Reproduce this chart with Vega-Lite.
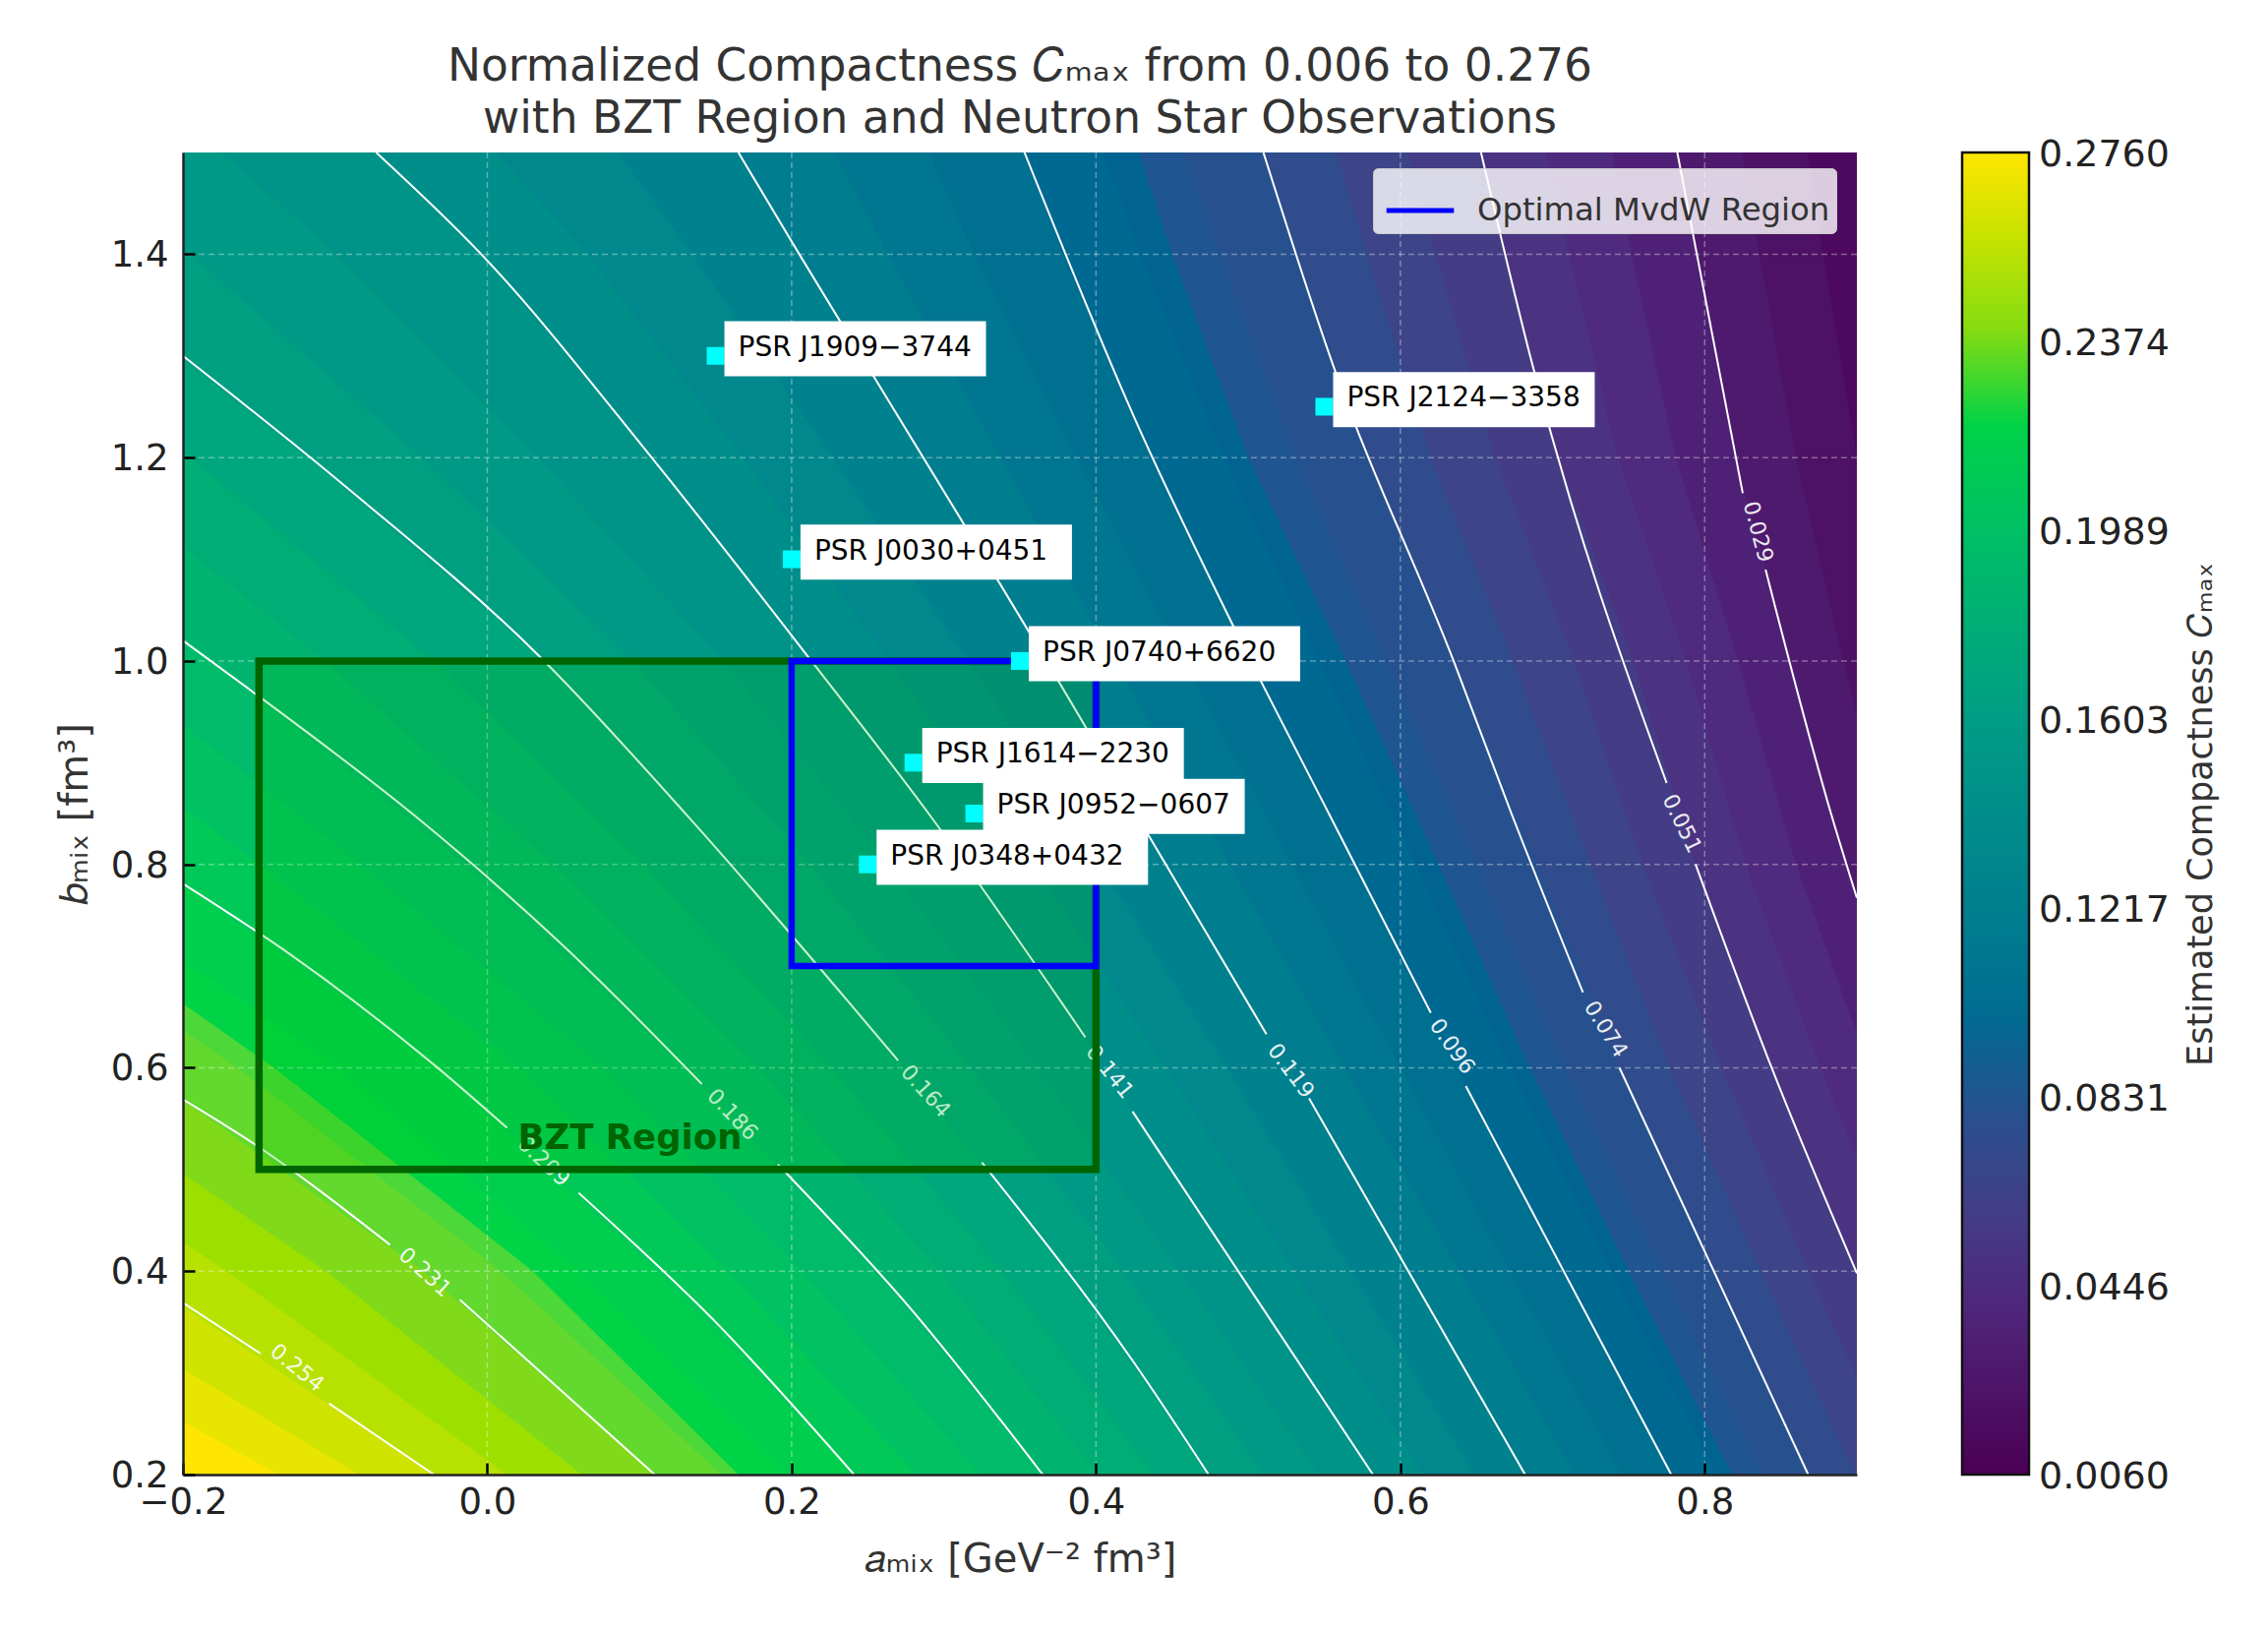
{
"$schema":"https://vega.github.io/schema/vega-lite/v6.json",
"autosize":{"type":"none","contains":"content"},
"padding":{"left":186,"top":155,"right":418,"bottom":159},
"width":1702,"height":1344,
"background":"white",
"config":{"font":"DejaVu Sans","view":{"stroke":null}},
"title":{"text":["Normalized Compactness 𝐶ₘₐₓ from 0.006 to 0.276","with BZT Region and Neutron Star Observations"],"frame":"group","anchor":"middle","fontSize":45.5,"fontWeight":"normal","color":"#333333","lineHeight":53,"offset":10,"dx":0},
"datasets":{
"bands":[
{"c":0.276,"a":-3,"b":0.2},{"c":0.276,"a":-3,"b":1.5},
{"c":0.269,"a":-0.137,"b":0.2},{"c":0.269,"a":-0.378,"b":0.4},{"c":0.269,"a":-0.6,"b":0.6},{"c":0.269,"a":-0.82,"b":0.8},{"c":0.269,"a":-1.1,"b":1},{"c":0.269,"a":-1.3,"b":1.2},{"c":0.269,"a":-1.5,"b":1.4},{"c":0.269,"a":-1.6,"b":1.5},
{"c":0.261,"a":-0.084,"b":0.2},{"c":0.261,"a":-0.307,"b":0.4},{"c":0.261,"a":-0.52,"b":0.6},{"c":0.261,"a":-0.75,"b":0.8},{"c":0.261,"a":-1,"b":1},{"c":0.261,"a":-1.2,"b":1.2},{"c":0.261,"a":-1.4,"b":1.4},{"c":0.261,"a":-1.5,"b":1.5},
{"c":0.254,"a":-0.035,"b":0.2},{"c":0.254,"a":-0.235,"b":0.4},{"c":0.254,"a":-0.45,"b":0.6},{"c":0.254,"a":-0.67,"b":0.8},{"c":0.254,"a":-0.9,"b":1},{"c":0.254,"a":-1.1,"b":1.2},{"c":0.254,"a":-1.3,"b":1.4},{"c":0.254,"a":-1.4,"b":1.5},
{"c":0.246,"a":0.013,"b":0.2},{"c":0.246,"a":-0.171,"b":0.4},{"c":0.246,"a":-0.377,"b":0.6},{"c":0.246,"a":-0.59,"b":0.8},{"c":0.246,"a":-0.807,"b":1},{"c":0.246,"a":-1.003,"b":1.2},{"c":0.246,"a":-1.2,"b":1.4},{"c":0.246,"a":-1.293,"b":1.5},
{"c":0.239,"a":0.062,"b":0.2},{"c":0.239,"a":-0.106,"b":0.4},{"c":0.239,"a":-0.303,"b":0.6},{"c":0.239,"a":-0.51,"b":0.8},{"c":0.239,"a":-0.713,"b":1},{"c":0.239,"a":-0.907,"b":1.2},{"c":0.239,"a":-1.1,"b":1.4},{"c":0.239,"a":-1.187,"b":1.5},
{"c":0.231,"a":0.11,"b":0.2},{"c":0.231,"a":-0.042,"b":0.4},{"c":0.231,"a":-0.23,"b":0.6},{"c":0.231,"a":-0.43,"b":0.8},{"c":0.231,"a":-0.62,"b":1},{"c":0.231,"a":-0.81,"b":1.2},{"c":0.231,"a":-1,"b":1.4},{"c":0.231,"a":-1.08,"b":1.5},
{"c":0.224,"a":0.154,"b":0.2},{"c":0.224,"a":0.009,"b":0.4},{"c":0.224,"a":-0.164,"b":0.6},{"c":0.224,"a":-0.359,"b":0.8},{"c":0.224,"a":-0.547,"b":1},{"c":0.224,"a":-0.733,"b":1.2},{"c":0.224,"a":-0.92,"b":1.4},{"c":0.224,"a":-1.003,"b":1.5},
{"c":0.2215,"a":0.165,"b":0.2},{"c":0.2215,"a":0.03,"b":0.4},{"c":0.2215,"a":-0.14,"b":0.6},{"c":0.2215,"a":-0.33,"b":0.8},{"c":0.2215,"a":-0.52,"b":1},{"c":0.2215,"a":-0.71,"b":1.2},{"c":0.2215,"a":-0.89,"b":1.4},{"c":0.2215,"a":-0.97,"b":1.5},
{"c":0.216,"a":0.197,"b":0.2},{"c":0.216,"a":0.06,"b":0.4},{"c":0.216,"a":-0.099,"b":0.6},{"c":0.216,"a":-0.289,"b":0.8},{"c":0.216,"a":-0.473,"b":1},{"c":0.216,"a":-0.657,"b":1.2},{"c":0.216,"a":-0.84,"b":1.4},{"c":0.216,"a":-0.927,"b":1.5},
{"c":0.209,"a":0.241,"b":0.2},{"c":0.209,"a":0.11,"b":0.4},{"c":0.209,"a":-0.033,"b":0.6},{"c":0.209,"a":-0.218,"b":0.8},{"c":0.209,"a":-0.4,"b":1},{"c":0.209,"a":-0.58,"b":1.2},{"c":0.209,"a":-0.76,"b":1.4},{"c":0.209,"a":-0.85,"b":1.5},
{"c":0.201,"a":0.282,"b":0.2},{"c":0.201,"a":0.158,"b":0.4},{"c":0.201,"a":0.021,"b":0.6},{"c":0.201,"a":-0.15,"b":0.8},{"c":0.201,"a":-0.327,"b":1},{"c":0.201,"a":-0.503,"b":1.2},{"c":0.201,"a":-0.683,"b":1.4},{"c":0.201,"a":-0.773,"b":1.5},
{"c":0.194,"a":0.324,"b":0.2},{"c":0.194,"a":0.207,"b":0.4},{"c":0.194,"a":0.076,"b":0.6},{"c":0.194,"a":-0.083,"b":0.8},{"c":0.194,"a":-0.253,"b":1},{"c":0.194,"a":-0.427,"b":1.2},{"c":0.194,"a":-0.607,"b":1.4},{"c":0.194,"a":-0.697,"b":1.5},
{"c":0.186,"a":0.365,"b":0.2},{"c":0.186,"a":0.255,"b":0.4},{"c":0.186,"a":0.13,"b":0.6},{"c":0.186,"a":-0.015,"b":0.8},{"c":0.186,"a":-0.18,"b":1},{"c":0.186,"a":-0.35,"b":1.2},{"c":0.186,"a":-0.53,"b":1.4},{"c":0.186,"a":-0.62,"b":1.5},
{"c":0.179,"a":0.401,"b":0.2},{"c":0.179,"a":0.297,"b":0.4},{"c":0.179,"a":0.178,"b":0.6},{"c":0.179,"a":0.043,"b":0.8},{"c":0.179,"a":-0.107,"b":1},{"c":0.179,"a":-0.273,"b":1.2},{"c":0.179,"a":-0.45,"b":1.4},{"c":0.179,"a":-0.54,"b":1.5},
{"c":0.171,"a":0.438,"b":0.2},{"c":0.171,"a":0.338,"b":0.4},{"c":0.171,"a":0.226,"b":0.6},{"c":0.171,"a":0.102,"b":0.8},{"c":0.171,"a":-0.035,"b":1},{"c":0.171,"a":-0.195,"b":1.2},{"c":0.171,"a":-0.37,"b":1.4},{"c":0.171,"a":-0.46,"b":1.5},
{"c":0.164,"a":0.474,"b":0.2},{"c":0.164,"a":0.38,"b":0.4},{"c":0.164,"a":0.274,"b":0.6},{"c":0.164,"a":0.16,"b":0.8},{"c":0.164,"a":0.038,"b":1},{"c":0.164,"a":-0.118,"b":1.2},{"c":0.164,"a":-0.29,"b":1.4},{"c":0.164,"a":-0.38,"b":1.5},
{"c":0.156,"a":0.51,"b":0.2},{"c":0.156,"a":0.418,"b":0.4},{"c":0.156,"a":0.318,"b":0.6},{"c":0.156,"a":0.212,"b":0.8},{"c":0.156,"a":0.096,"b":1},{"c":0.156,"a":-0.043,"b":1.2},{"c":0.156,"a":-0.195,"b":1.4},{"c":0.156,"a":-0.278,"b":1.5},
{"c":0.149,"a":0.546,"b":0.2},{"c":0.149,"a":0.455,"b":0.4},{"c":0.149,"a":0.361,"b":0.6},{"c":0.149,"a":0.263,"b":0.8},{"c":0.149,"a":0.155,"b":1},{"c":0.149,"a":0.033,"b":1.2},{"c":0.149,"a":-0.099,"b":1.4},{"c":0.149,"a":-0.175,"b":1.5},
{"c":0.141,"a":0.582,"b":0.2},{"c":0.141,"a":0.493,"b":0.4},{"c":0.141,"a":0.405,"b":0.6},{"c":0.141,"a":0.315,"b":0.8},{"c":0.141,"a":0.213,"b":1},{"c":0.141,"a":0.108,"b":1.2},{"c":0.141,"a":-0.004,"b":1.4},{"c":0.141,"a":-0.073,"b":1.5},
{"c":0.134,"a":0.615,"b":0.2},{"c":0.134,"a":0.53,"b":0.4},{"c":0.134,"a":0.446,"b":0.6},{"c":0.134,"a":0.359,"b":0.8},{"c":0.134,"a":0.264,"b":1},{"c":0.134,"a":0.168,"b":1.2},{"c":0.134,"a":0.066,"b":1.4},{"c":0.134,"a":0.006,"b":1.5},
{"c":0.126,"a":0.649,"b":0.2},{"c":0.126,"a":0.568,"b":0.4},{"c":0.126,"a":0.486,"b":0.6},{"c":0.126,"a":0.403,"b":0.8},{"c":0.126,"a":0.316,"b":1},{"c":0.126,"a":0.227,"b":1.2},{"c":0.126,"a":0.135,"b":1.4},{"c":0.126,"a":0.086,"b":1.5},
{"c":0.119,"a":0.682,"b":0.2},{"c":0.119,"a":0.605,"b":0.4},{"c":0.119,"a":0.527,"b":0.6},{"c":0.119,"a":0.447,"b":0.8},{"c":0.119,"a":0.367,"b":1},{"c":0.119,"a":0.287,"b":1.2},{"c":0.119,"a":0.205,"b":1.4},{"c":0.119,"a":0.165,"b":1.5},
{"c":0.111,"a":0.714,"b":0.2},{"c":0.111,"a":0.639,"b":0.4},{"c":0.111,"a":0.563,"b":0.6},{"c":0.111,"a":0.488,"b":0.8},{"c":0.111,"a":0.412,"b":1},{"c":0.111,"a":0.337,"b":1.2},{"c":0.111,"a":0.263,"b":1.4},{"c":0.111,"a":0.228,"b":1.5},
{"c":0.104,"a":0.746,"b":0.2},{"c":0.104,"a":0.672,"b":0.4},{"c":0.104,"a":0.6,"b":0.6},{"c":0.104,"a":0.529,"b":0.8},{"c":0.104,"a":0.458,"b":1},{"c":0.104,"a":0.387,"b":1.2},{"c":0.104,"a":0.32,"b":1.4},{"c":0.104,"a":0.29,"b":1.5},
{"c":0.096,"a":0.778,"b":0.2},{"c":0.096,"a":0.706,"b":0.4},{"c":0.096,"a":0.636,"b":0.6},{"c":0.096,"a":0.57,"b":0.8},{"c":0.096,"a":0.503,"b":1},{"c":0.096,"a":0.437,"b":1.2},{"c":0.096,"a":0.378,"b":1.4},{"c":0.096,"a":0.353,"b":1.5},
{"c":0.089,"a":0.808,"b":0.2},{"c":0.089,"a":0.739,"b":0.4},{"c":0.089,"a":0.672,"b":0.6},{"c":0.089,"a":0.61,"b":0.8},{"c":0.089,"a":0.547,"b":1},{"c":0.089,"a":0.484,"b":1.2},{"c":0.089,"a":0.429,"b":1.4},{"c":0.089,"a":0.405,"b":1.5},
{"c":0.0845,"a":0.818,"b":0.2},{"c":0.0845,"a":0.75,"b":0.4},{"c":0.0845,"a":0.685,"b":0.6},{"c":0.0845,"a":0.625,"b":0.8},{"c":0.0845,"a":0.564,"b":1},{"c":0.0845,"a":0.5,"b":1.2},{"c":0.0845,"a":0.45,"b":1.4},{"c":0.0845,"a":0.428,"b":1.5},
{"c":0.08,"a":0.838,"b":0.2},{"c":0.08,"a":0.772,"b":0.4},{"c":0.08,"a":0.708,"b":0.6},{"c":0.08,"a":0.65,"b":0.8},{"c":0.08,"a":0.591,"b":1},{"c":0.08,"a":0.531,"b":1.2},{"c":0.08,"a":0.481,"b":1.4},{"c":0.08,"a":0.458,"b":1.5},
{"c":0.074,"a":0.868,"b":0.2},{"c":0.074,"a":0.805,"b":0.4},{"c":0.074,"a":0.744,"b":0.6},{"c":0.074,"a":0.69,"b":0.8},{"c":0.074,"a":0.635,"b":1},{"c":0.074,"a":0.578,"b":1.2},{"c":0.074,"a":0.532,"b":1.4},{"c":0.074,"a":0.51,"b":1.5},
{"c":0.066,"a":0.899,"b":0.2},{"c":0.066,"a":0.837,"b":0.4},{"c":0.066,"a":0.777,"b":0.6},{"c":0.066,"a":0.725,"b":0.8},{"c":0.066,"a":0.674,"b":1},{"c":0.066,"a":0.62,"b":1.2},{"c":0.066,"a":0.578,"b":1.4},{"c":0.066,"a":0.558,"b":1.5},
{"c":0.059,"a":0.929,"b":0.2},{"c":0.059,"a":0.868,"b":0.4},{"c":0.059,"a":0.811,"b":0.6},{"c":0.059,"a":0.759,"b":0.8},{"c":0.059,"a":0.714,"b":1},{"c":0.059,"a":0.662,"b":1.2},{"c":0.059,"a":0.623,"b":1.4},{"c":0.059,"a":0.605,"b":1.5},
{"c":0.051,"a":0.96,"b":0.2},{"c":0.051,"a":0.9,"b":0.4},{"c":0.051,"a":0.844,"b":0.6},{"c":0.051,"a":0.794,"b":0.8},{"c":0.051,"a":0.753,"b":1},{"c":0.051,"a":0.704,"b":1.2},{"c":0.051,"a":0.669,"b":1.4},{"c":0.051,"a":0.653,"b":1.5},
{"c":0.044,"a":0.99,"b":0.2},{"c":0.044,"a":0.93,"b":0.4},{"c":0.044,"a":0.876,"b":0.6},{"c":0.044,"a":0.827,"b":0.8},{"c":0.044,"a":0.788,"b":1},{"c":0.044,"a":0.743,"b":1.2},{"c":0.044,"a":0.711,"b":1.4},{"c":0.044,"a":0.696,"b":1.5},
{"c":0.036,"a":1.02,"b":0.2},{"c":0.036,"a":0.96,"b":0.4},{"c":0.036,"a":0.908,"b":0.6},{"c":0.036,"a":0.86,"b":0.8},{"c":0.036,"a":0.822,"b":1},{"c":0.036,"a":0.781,"b":1.2},{"c":0.036,"a":0.752,"b":1.4},{"c":0.036,"a":0.739,"b":1.5},
{"c":0.029,"a":1.05,"b":0.2},{"c":0.029,"a":0.99,"b":0.4},{"c":0.029,"a":0.94,"b":0.6},{"c":0.029,"a":0.893,"b":0.8},{"c":0.029,"a":0.857,"b":1},{"c":0.029,"a":0.82,"b":1.2},{"c":0.029,"a":0.794,"b":1.4},{"c":0.029,"a":0.782,"b":1.5},
{"c":0.021,"a":1.083,"b":0.2},{"c":0.021,"a":1.023,"b":0.4},{"c":0.021,"a":0.97,"b":0.6},{"c":0.021,"a":0.925,"b":0.8},{"c":0.021,"a":0.891,"b":1},{"c":0.021,"a":0.86,"b":1.2},{"c":0.021,"a":0.836,"b":1.4},{"c":0.021,"a":0.825,"b":1.5},
{"c":0.014,"a":1.117,"b":0.2},{"c":0.014,"a":1.057,"b":0.4},{"c":0.014,"a":1,"b":0.6},{"c":0.014,"a":0.958,"b":0.8},{"c":0.014,"a":0.926,"b":1},{"c":0.014,"a":0.9,"b":1.2},{"c":0.014,"a":0.878,"b":1.4},{"c":0.014,"a":0.868,"b":1.5},
{"c":0.006,"a":1.15,"b":0.2},{"c":0.006,"a":1.09,"b":0.4},{"c":0.006,"a":1.03,"b":0.6},{"c":0.006,"a":0.99,"b":0.8},{"c":0.006,"a":0.96,"b":1},{"c":0.006,"a":0.94,"b":1.2},{"c":0.006,"a":0.92,"b":1.4},{"c":0.006,"a":0.91,"b":1.5}
],
"contours":[
{"level":0.254,"seg":0,"a":-0.2,"b":0.369},{"level":0.254,"seg":0,"a":-0.149,"b":0.319},{"level":0.254,"seg":1,"a":-0.104,"b":0.27},{"level":0.254,"seg":1,"a":-0.035,"b":0.2},
{"level":0.231,"seg":0,"a":-0.2,"b":0.569},{"level":0.231,"seg":0,"a":-0.154,"b":0.526},{"level":0.231,"seg":0,"a":-0.064,"b":0.426},{"level":0.231,"seg":1,"a":-0.018,"b":0.372},{"level":0.231,"seg":1,"a":0.11,"b":0.2},
{"level":0.209,"seg":0,"a":-0.2,"b":0.781},{"level":0.209,"seg":0,"a":-0.13,"b":0.712},{"level":0.209,"seg":0,"a":-0.035,"b":0.603},{"level":0.209,"seg":0,"a":0.013,"b":0.541},{"level":0.209,"seg":1,"a":0.06,"b":0.477},{"level":0.209,"seg":1,"a":0.15,"b":0.35},{"level":0.209,"seg":1,"a":0.241,"b":0.2},
{"level":0.186,"seg":0,"a":-0.2,"b":1.02},{"level":0.186,"seg":0,"a":-0.149,"b":0.964},{"level":0.186,"seg":0,"a":-0.047,"b":0.847},{"level":0.186,"seg":0,"a":0.05,"b":0.72},{"level":0.186,"seg":0,"a":0.141,"b":0.584},{"level":0.186,"seg":1,"a":0.191,"b":0.505},{"level":0.186,"seg":1,"a":0.28,"b":0.36},{"level":0.186,"seg":1,"a":0.365,"b":0.2},
{"level":0.164,"seg":0,"a":-0.2,"b":1.3},{"level":0.164,"seg":0,"a":-0.1,"b":1.18},{"level":0.164,"seg":0,"a":0.034,"b":1.005},{"level":0.164,"seg":0,"a":0.132,"b":0.847},{"level":0.164,"seg":0,"a":0.27,"b":0.607},{"level":0.164,"seg":1,"a":0.325,"b":0.507},{"level":0.164,"seg":1,"a":0.425,"b":0.31},{"level":0.164,"seg":1,"a":0.474,"b":0.2},
{"level":0.141,"seg":0,"a":-0.073,"b":1.5},{"level":0.141,"seg":0,"a":-0.004,"b":1.4},{"level":0.141,"seg":0,"a":0.108,"b":1.2},{"level":0.141,"seg":0,"a":0.213,"b":1},{"level":0.141,"seg":0,"a":0.29,"b":0.85},{"level":0.141,"seg":0,"a":0.393,"b":0.63},{"level":0.141,"seg":1,"a":0.424,"b":0.557},{"level":0.141,"seg":1,"a":0.582,"b":0.2},
{"level":0.119,"seg":0,"a":0.165,"b":1.5},{"level":0.119,"seg":0,"a":0.205,"b":1.4},{"level":0.119,"seg":0,"a":0.313,"b":1.135},{"level":0.119,"seg":0,"a":0.394,"b":0.933},{"level":0.119,"seg":0,"a":0.434,"b":0.83},{"level":0.119,"seg":0,"a":0.512,"b":0.633},{"level":0.119,"seg":1,"a":0.54,"b":0.57},{"level":0.119,"seg":1,"a":0.682,"b":0.2},
{"level":0.096,"seg":0,"a":0.353,"b":1.5},{"level":0.096,"seg":0,"a":0.425,"b":1.24},{"level":0.096,"seg":0,"a":0.49,"b":1.035},{"level":0.096,"seg":0,"a":0.553,"b":0.85},{"level":0.096,"seg":0,"a":0.62,"b":0.654},{"level":0.096,"seg":1,"a":0.643,"b":0.582},{"level":0.096,"seg":1,"a":0.778,"b":0.2},
{"level":0.074,"seg":0,"a":0.51,"b":1.5},{"level":0.074,"seg":0,"a":0.556,"b":1.29},{"level":0.074,"seg":0,"a":0.635,"b":1},{"level":0.074,"seg":0,"a":0.673,"b":0.85},{"level":0.074,"seg":0,"a":0.72,"b":0.674},{"level":0.074,"seg":1,"a":0.744,"b":0.6},{"level":0.074,"seg":1,"a":0.868,"b":0.2},
{"level":0.051,"seg":0,"a":0.653,"b":1.5},{"level":0.051,"seg":0,"a":0.687,"b":1.29},{"level":0.051,"seg":0,"a":0.775,"b":0.88},{"level":0.051,"seg":1,"a":0.794,"b":0.8},{"level":0.051,"seg":1,"a":0.844,"b":0.6},{"level":0.051,"seg":1,"a":0.9,"b":0.398},
{"level":0.029,"seg":0,"a":0.782,"b":1.5},{"level":0.029,"seg":0,"a":0.825,"b":1.165},{"level":0.029,"seg":1,"a":0.84,"b":1.09},{"level":0.029,"seg":1,"a":0.883,"b":0.85},{"level":0.029,"seg":1,"a":0.9,"b":0.767}
],
"contourLabels":[
{"level":0.254,"a":-0.125,"b":0.305},{"level":0.231,"a":-0.041,"b":0.399},{"level":0.209,"a":0.037,"b":0.508},{"level":0.186,"a":0.161,"b":0.554},{"level":0.164,"a":0.288,"b":0.577},{"level":0.141,"a":0.409,"b":0.596},{"level":0.119,"a":0.528,"b":0.597},{"level":0.096,"a":0.634,"b":0.621},{"level":0.074,"a":0.735,"b":0.638},{"level":0.051,"a":0.785,"b":0.84},{"level":0.029,"a":0.835,"b":1.127}
],
"gridA":[{"a":0},{"a":0.2},{"a":0.4},{"a":0.6},{"a":0.8}],
"gridB":[{"b":0.4},{"b":0.6},{"b":0.8},{"b":1},{"b":1.2},{"b":1.4}],
"regions":[{"region":"BZT Region","a0":-0.15,"a1":0.4,"b0":0.5,"b1":1},{"region":"Optimal MvdW Region","a0":0.2,"a1":0.4,"b0":0.7,"b1":1}],
"pulsars":[
{"name":"PSR J1909−3744","a":0.15,"b":1.3,"sign":"minus"},
{"name":"PSR J2124−3358","a":0.55,"b":1.25,"sign":"minus"},
{"name":"PSR J0030+0451","a":0.2,"b":1.1,"sign":"plus"},
{"name":"PSR J0740+6620","a":0.35,"b":1,"sign":"plus"},
{"name":"PSR J1614−2230","a":0.28,"b":0.9,"sign":"minus"},
{"name":"PSR J0952−0607","a":0.32,"b":0.85,"sign":"minus"},
{"name":"PSR J0348+0432","a":0.25,"b":0.8,"sign":"plus"}
]
},
"encoding":{
"x":{"field":"a","type":"quantitative","stack":null,"scale":{"domain":[-0.2,0.9],"nice":false,"zero":false},
"axis":{"title":"𝑎ₘᵢₓ [GeV⁻² fm³]","values":[-0.2,0,0.2,0.4,0.6,0.8],"format":".1f","grid":false,"zindex":1,"tickSize":-12,"tickWidth":2.5,"tickColor":"#000000","domainColor":"#222222","domainWidth":2.5,"labelFontSize":37,"labelColor":"#222222","labelPadding":22,"labelFlush":false,"titleFontSize":40,"titleFontWeight":"normal","titleColor":"#333333","titlePadding":20}},
"y":{"field":"b","type":"quantitative","scale":{"domain":[0.2,1.5],"nice":false,"zero":false},
"axis":{"title":"𝑏ₘᵢₓ [fm³]","values":[0.2,0.4,0.6,0.8,1,1.2,1.4],"format":".1f","grid":false,"zindex":1,"tickSize":-12,"tickWidth":2.5,"tickColor":"#000000","domainColor":"#222222","domainWidth":2.5,"labelFontSize":37,"labelColor":"#222222","labelPadding":27,"labelOffset":1.5,"titleFontSize":40,"titleFontWeight":"normal","titleColor":"#333333","titlePadding":16}}
},
"layer":[
{"data":{"name":"bands"},
"mark":{"type":"area","orient":"horizontal","clip":true},
"encoding":{
"x2":{"datum":1.6},
"detail":{"field":"c"},
"color":{"field":"c","type":"quantitative",
"scale":{"type":"linear","domain":[0.006,0.0446,0.065,0.0846,0.0848,0.1217,0.1603,0.1989,0.2219,0.2221,0.2374,0.242,0.276],"range":["#4b0055","#502b7f","#3f4488","#1f5590","#005f92","#007f8f","#009c85","#00c065","#00d445","#45d83a","#78d826","#90df00","#ffe600"],"interpolate":"rgb"},
"legend":{"orient":"none","legendX":1809,"legendY":0,"padding":0,"type":"gradient","direction":"vertical","gradientLength":1344,"gradientThickness":68,"gradientStrokeColor":"#111111","gradientStrokeWidth":2.5,"values":[0.006,0.0446,0.0831,0.1217,0.1603,0.1989,0.2374,0.276],"format":".4f","labelFontSize":38,"labelColor":"#222222","labelOffset":10,"title":"Estimated Compactness 𝐶ₘₐₓ","titleLimit":2000,"titleOrient":"right","titleFontSize":35,"titleFontWeight":"normal","titleColor":"#333333","titlePadding":50,"titleAnchor":"middle","encoding":{"labels":{"baseline":{"value":"middle"},"dy":{"value":3}},"title":{"angle":{"value":270}}}}}
}},
{"data":{"name":"gridA"},"mark":{"type":"rule","color":"#ffffff","opacity":0.35,"strokeWidth":1.5,"strokeDash":[6,4]},"encoding":{"y":null}},
{"data":{"name":"gridB"},"mark":{"type":"rule","color":"#ffffff","opacity":0.35,"strokeWidth":1.5,"strokeDash":[6,4]},"encoding":{"x":null}},
{"data":{"name":"contours"},"mark":{"type":"line","color":"#ffffff","strokeWidth":2,"interpolate":"monotone","clip":true},"encoding":{"detail":[{"field":"level"},{"field":"seg"}]}},
{"data":{"name":"contourLabels"},"mark":{"type":"text","color":"#ffffff","fontSize":22,"opacity":0.9},
"encoding":{"text":{"field":"level","type":"quantitative","format":".3f"},
"angle":{"field":"level","type":"quantitative","legend":null,"scale":{"zero":false,"domain":[0.029,0.051,0.074,0.096,0.119,0.141,0.164,0.186,0.209,0.231,0.254],"range":[75,64,58,55,53,51,48,46,43,42,39]}}}},
{"data":{"name":"regions"},"transform":[{"filter":"datum.region === 'BZT Region'"}],
"mark":{"type":"rect","fill":"#00c800","fillOpacity":0.2,"stroke":"#006400","strokeWidth":7.5},
"encoding":{"x":{"field":"a0","type":"quantitative"},"x2":{"field":"a1"},"y":{"field":"b0","type":"quantitative"},"y2":{"field":"b1"}}},
{"data":{"name":"regions"},"transform":[{"filter":"datum.region !== 'BZT Region'"}],
"mark":{"type":"rect","filled":false,"strokeWidth":6.5},
"encoding":{"x":{"field":"a0","type":"quantitative"},"x2":{"field":"a1"},"y":{"field":"b0","type":"quantitative"},"y2":{"field":"b1"},
"stroke":{"field":"region","type":"nominal","scale":{"range":["#0000ff"]},
"legend":{"orient":"none","legendX":1210,"legendY":16,"title":null,"padding":6,"fillColor":"rgba(255,255,255,0.8)","strokeColor":"#cccccc","cornerRadius":5,"symbolType":"stroke","symbolSize":4700,"symbolOffset":5,"symbolStrokeWidth":5,"labelFontSize":32.3,"labelColor":"#333333","labelOffset":21,"labelLimit":600,"labelExpr":"datum.label + '\u00a0'"}}}},
{"data":{"values":[{"label":"BZT Region","a":0.02,"b":0.531}]},"mark":{"type":"text","align":"left","baseline":"middle","color":"#006400","fontSize":35.5,"fontWeight":"bold"},"encoding":{"text":{"field":"label"}}},
{"data":{"name":"pulsars"},"mark":{"type":"point","shape":"square","filled":true,"color":"#00ffff","size":324,"opacity":1}},
{"data":{"name":"pulsars"},"transform":[{"filter":"datum.sign === 'minus'"}],"mark":{"type":"rect","color":"#ffffff","width":266,"height":56,"xOffset":142,"yOffset":-7.3}},
{"data":{"name":"pulsars"},"transform":[{"filter":"datum.sign === 'plus'"}],"mark":{"type":"rect","color":"#ffffff","width":276,"height":56,"xOffset":147,"yOffset":-7.3}},
{"data":{"name":"pulsars"},"mark":{"type":"text","align":"left","baseline":"middle","color":"#000000","fontSize":28,"dx":23,"dy":-8},"encoding":{"text":{"field":"name"}}}
]
}
